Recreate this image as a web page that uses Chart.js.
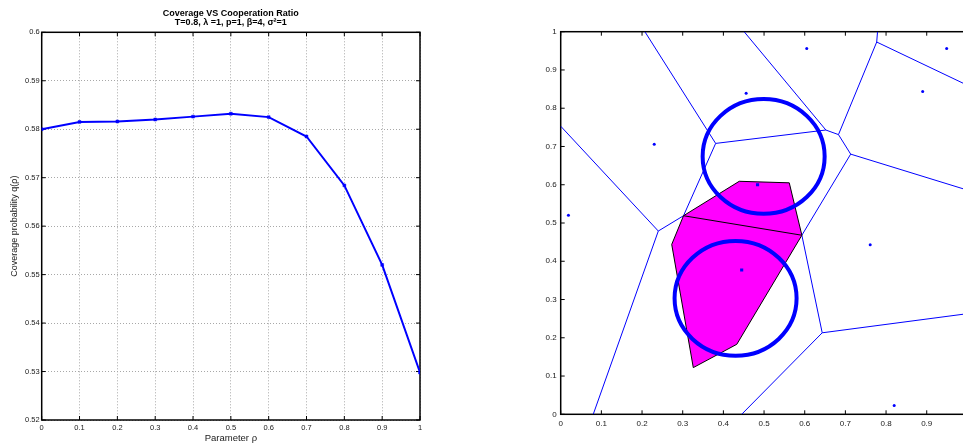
<!DOCTYPE html>
<html>
<head>
<meta charset="utf-8">
<title>Coverage VS Cooperation Ratio</title>
<script src="https://cdn.jsdelivr.net/npm/chart.js@4.4.1/dist/chart.umd.min.js"></script>
<style>
  html, body { margin: 0; padding: 0; background: #fff; overflow: hidden; }
  #wrap { position: relative; width: 963px; height: 444px; overflow: hidden; }
  #coverage { position: absolute; left: 0; top: 0; }
  #cells { position: absolute; left: 480px; top: 0; }
</style>
</head>
<body>
<div id="wrap">
  <canvas id="coverage" width="480" height="444"></canvas>
  <canvas id="cells" width="520" height="444"></canvas>
</div>
<script>
// coverage probability against the cooperation parameter
const rho = [0, 0.1, 0.2, 0.3, 0.4, 0.5, 0.6, 0.7, 0.8, 0.9, 1];
const coverage = [0.58, 0.5815, 0.5816, 0.582, 0.5826, 0.5832, 0.5825, 0.5785, 0.5684, 0.552, 0.5298];
const rhoTicks = [0, 0.1, 0.2, 0.3, 0.4, 0.5, 0.6, 0.7, 0.8, 0.9, 1];
const rhoTickLabels = ["0", "0.1", "0.2", "0.3", "0.4", "0.5", "0.6", "0.7", "0.8", "0.9", "1"];
const qTicks = [0.52, 0.53, 0.54, 0.55, 0.56, 0.57, 0.58, 0.59, 0.6];
const qTickLabels = ["0.52", "0.53", "0.54", "0.55", "0.56", "0.57", "0.58", "0.59", "0.6"];

// network snapshot on the unit square
const unitTicks = [0, 0.1, 0.2, 0.3, 0.4, 0.5, 0.6, 0.7, 0.8, 0.9, 1];
const unitTickLabels = ["0", "0.1", "0.2", "0.3", "0.4", "0.5", "0.6", "0.7", "0.8", "0.9", "1"];
const baseStations = [
  [0.019, 0.52], [0.23, 0.706], [0.456, 0.839], [0.605, 0.956],
  [0.949, 0.956], [0.89, 0.844], [0.761, 0.443], [0.82, 0.023],
];
const servingStations = [[0.484, 0.6], [0.445, 0.377]];
const coopRegion = [
  [0.302, 0.519], [0.439, 0.609], [0.562, 0.605], [0.593, 0.468],
  [0.433, 0.183], [0.326, 0.122], [0.273, 0.444], [0.302, 0.519],
];
const sharedBorder = [[0.302, 0.519], [0.593, 0.468]];

// voronoi vertices
const v1 = [0.381, 0.708];
const v2 = [0.652, 0.743];
const v3 = [0.683, 0.731];
const v4 = [0.777, 0.973];
const v5 = [0.713, 0.68];
const v6 = [0.643, 0.213];
const v7 = [0.24, 0.479];
const va = coopRegion[0];
const vp = coopRegion[3];
const voronoiEdges = [
  [[0.207, 1], v1], [v1, v2], [[0.451, 1], v2], [v2, v3], [v3, v4],
  [v4, [0.779, 1]], [v4, [1, 0.86]], [v3, v5], [v5, [1, 0.586]],
  [v5, vp], [vp, v6], [v6, [1, 0.263]], [v6, [0.445, 0]],
  [v1, va], [va, v7], [[0, 0.753], v7], [v7, [0.08, 0]],
];
const circleCenters = [[0.499, 0.674], [0.43, 0.303]];
const circleRadius = 0.15;

const toXY = (pts) => pts.map(([x, y]) => ({ x, y }));

Chart.defaults.font.family = '"Liberation Sans", Arial, Helvetica, sans-serif';
Chart.defaults.color = "#1a1a1a";
Chart.defaults.animation = false;

// axes box with matlab-style inward ticks
const frame = {
  id: "frame",
  beforeDatasetsDraw(chart, args, opts) {
    const { ctx, chartArea: a, scales } = chart;
    const t = opts.tick;
    ctx.save();
    ctx.strokeStyle = "#000";
    ctx.lineWidth = 1;
    ctx.beginPath();
    scales.x.ticks.forEach((tk) => {
      const px = scales.x.getPixelForValue(tk.value);
      ctx.moveTo(px, a.bottom);
      ctx.lineTo(px, a.bottom - t);
      ctx.moveTo(px, a.top);
      ctx.lineTo(px, a.top + t);
    });
    scales.y.ticks.forEach((tk) => {
      const py = scales.y.getPixelForValue(tk.value);
      ctx.moveTo(a.left, py);
      ctx.lineTo(a.left + t, py);
      ctx.moveTo(a.right, py);
      ctx.lineTo(a.right - t, py);
    });
    ctx.stroke();
    ctx.lineWidth = opts.width;
    ctx.strokeRect(a.left, a.top, a.right - a.left, a.bottom - a.top);
    ctx.restore();
  },
};

const rings = {
  id: "rings",
  afterDatasetsDraw(chart) {
    const { ctx, chartArea: a, scales: { x, y } } = chart;
    ctx.save();
    ctx.beginPath();
    ctx.rect(a.left, a.top, a.right - a.left, a.bottom - a.top);
    ctx.clip();
    ctx.strokeStyle = "#0000ff";
    ctx.lineWidth = 4;
    circleCenters.forEach(([cx, cy]) => {
      const px = x.getPixelForValue(cx);
      const py = y.getPixelForValue(cy);
      const rx = x.getPixelForValue(cx + circleRadius) - px;
      const ry = py - y.getPixelForValue(cy + circleRadius);
      ctx.beginPath();
      ctx.ellipse(px, py, rx, ry, 0, 0, Math.PI * 2);
      ctx.stroke();
    });
    ctx.restore();
  },
};

const fixedTicks = (values) => (scale) => {
  scale.ticks = values.map((value) => ({ value }));
};

new Chart(document.getElementById("coverage"), {
  type: "line",
  data: {
    datasets: [
      {
        data: rho.map((x, i) => ({ x, y: coverage[i] })),
        borderColor: "#0000ff",
        backgroundColor: "#0000ff",
        borderWidth: 2,
        pointStyle: "rect",
        pointRadius: 2,
        pointBorderWidth: 0.5,
        tension: 0,
      },
    ],
  },
  options: {
    responsive: false,
    events: [],
    layout: { padding: { left: 0, right: 60, top: 0, bottom: 0 } },
    plugins: {
      legend: { display: false },
      tooltip: { enabled: false },
      title: {
        display: true,
        fullSize: false,
        text: ["Coverage VS Cooperation Ratio", "T=0.8, λ =1, p=1, β=4, σ²=1"],
        color: "#000",
        font: { size: 9, weight: "bold", lineHeight: 1.05 },
        padding: { top: 8.6, bottom: 4.8 },
      },
      frame: { tick: 4, width: 1.5 },
    },
    scales: {
      x: {
        type: "linear",
        min: 0,
        max: 1,
        afterBuildTicks: fixedTicks(rhoTicks),
        afterFit: (scale) => { scale.height = 24; },
        ticks: {
          font: { size: 7.5 },
          padding: 3.8,
          maxRotation: 0,
          autoSkip: false,
          callback: (v, i) => rhoTickLabels[i],
        },
        grid: { color: "#a8a8a8", drawTicks: false, lineWidth: 1 },
        border: { display: false, dash: [1, 2] },
        title: { display: true, text: "Parameter ρ", font: { size: 9.5 }, padding: 0 },
      },
      y: {
        min: 0.52,
        max: 0.6,
        afterBuildTicks: fixedTicks(qTicks),
        afterFit: (scale) => { scale.width = 41.7; },
        ticks: {
          font: { size: 7.5 },
          padding: 2,
          autoSkip: false,
          callback: (v, i) => qTickLabels[i],
        },
        grid: { color: "#a8a8a8", drawTicks: false, lineWidth: 1 },
        border: { display: false, dash: [1, 2] },
        title: {
          display: true,
          text: "Coverage probability q(ρ)",
          font: { size: 9 },
          padding: { top: 9, bottom: 0 },
        },
      },
    },
  },
  plugins: [frame],
});

const edgeSets = voronoiEdges.map((edge) => ({
  data: toXY(edge),
  borderColor: "#0000ff",
  borderWidth: 1,
  pointRadius: 0,
  fill: false,
}));

new Chart(document.getElementById("cells"), {
  type: "line",
  data: {
    datasets: [
      {
        data: toXY(servingStations),
        showLine: false,
        pointStyle: "rect",
        pointRadius: 2.2,
        pointBorderWidth: 0,
        backgroundColor: "#0000ff",
      },
      {
        data: toXY(baseStations),
        showLine: false,
        pointRadius: 1.5,
        pointBorderWidth: 0,
        backgroundColor: "#0000ff",
      },
      {
        data: toXY(sharedBorder),
        borderColor: "#000",
        borderWidth: 1,
        pointRadius: 0,
        fill: false,
      },
      {
        data: toXY(coopRegion),
        borderColor: "#000",
        borderWidth: 1,
        backgroundColor: "#ff00ff",
        pointRadius: 0,
        fill: "shape",
      },
      ...edgeSets,
    ],
  },
  options: {
    responsive: false,
    events: [],
    layout: { padding: { left: 0, right: 32.6, top: 31.7, bottom: 0 } },
    plugins: {
      legend: { display: false },
      tooltip: { enabled: false },
      frame: { tick: 4, width: 1.5 },
    },
    scales: {
      x: {
        type: "linear",
        min: 0,
        max: 1,
        afterBuildTicks: fixedTicks(unitTicks),
        afterFit: (scale) => { scale.height = 29.7; },
        ticks: {
          font: { size: 8 },
          padding: 4.2,
          maxRotation: 0,
          autoSkip: false,
          callback: (v, i) => unitTickLabels[i],
        },
        grid: { display: false, drawTicks: false },
        border: { display: false },
      },
      y: {
        min: 0,
        max: 1,
        afterBuildTicks: fixedTicks(unitTicks),
        afterFit: (scale) => { scale.width = 80.7; },
        ticks: {
          font: { size: 8 },
          padding: 4,
          autoSkip: false,
          callback: (v, i) => unitTickLabels[i],
        },
        grid: { display: false, drawTicks: false },
        border: { display: false },
      },
    },
  },
  plugins: [frame, rings],
});
</script>
</body>
</html>
